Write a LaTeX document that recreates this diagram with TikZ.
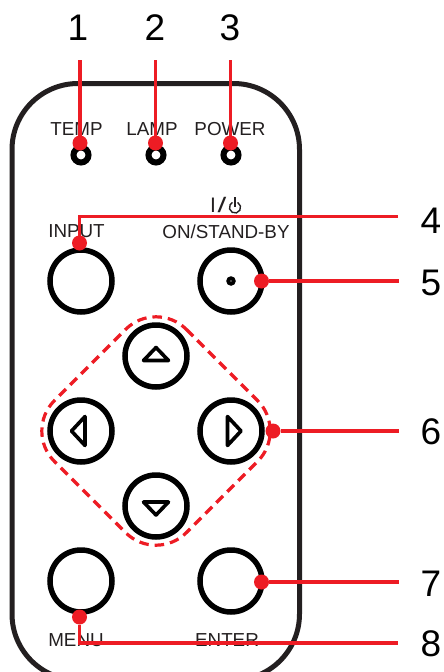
\documentclass[tikz,border=0pt]{standalone}
\usepackage{fontspec}
\setmainfont{Liberation Sans}
\definecolor{ink}{HTML}{231F20}
\definecolor{callout}{HTML}{ED1C24}
\tikzset{
  x=1pt,y=-1pt,
  body/.style={draw=ink,line width=5pt},
  led/.style={circle,draw=black,line width=6pt,minimum size=15pt,inner sep=0pt,outer sep=0pt},
  btn/.style={circle,draw=black,line width=5.5pt,minimum size=62pt,inner sep=0pt,outer sep=0pt},
  tri/.style={draw=black,line width=3.6pt,line join=round},
  lab/.style={text=ink,font=\fontsize{18.8}{19}\selectfont,inner sep=0pt,anchor=center},
  num/.style={text=black,font=\fontsize{37}{38}\selectfont,inner sep=0pt,anchor=center},
  dot/.style={circle,fill=callout,minimum size=15pt,inner sep=0pt,outer sep=0pt},
  lead/.style={draw=callout,line width=3.4pt},
  region/.style={draw=callout,line width=3.2pt,dash pattern=on 9.5pt off 6pt,rounded corners=43pt},
}
\begin{document}
\begin{tikzpicture}
\useasboundingbox (0,0) rectangle (444,672);
\begin{scope}
\clip (0,0) rectangle (444,672);
\draw[body,rounded corners=66pt] (12,83.5) rectangle (299.5,680);
\end{scope}
% texts
\node[lab] (ttemp) at (76.5,129) {TEMP};
\node[lab] (tlamp) at (152,129) {LAMP};
\node[lab] (tpower) at (230,129) {POWER};
\node[lab] (tinput) at (76.5,231.5) {INPUT};
\node[lab] (ton) at (226,231.5) {ON/STAND-BY};
\node[lab,anchor=west,font=\fontsize{21}{22}\selectfont] (tsym) at (210,205) {I\kern1.5pt\scalebox{1.5}[1]{/}};
\node[lab] (tmenu) at (76,640) {MENU};
\node[lab] (tenter) at (227,640) {ENTER};
\draw[ink,line width=1.4pt,line cap=round] (237.8,202.6) arc[start angle=-60,end angle=240,radius=5.6];
\draw[ink,line width=1.4pt] (235,197) -- (235,206.5);
% LEDs
\node[led] (l1) at (81,155) {};
\node[led] (l2) at (156,155) {};
\node[led] (l3) at (231,155) {};
% buttons
\node[btn] (input) at (81,281) {};
\node[btn] (on) at (231,281) {};
\node[btn] (up) at (156,356) {};
\node[btn] (left) at (81,431) {};
\node[btn] (right) at (231,431) {};
\node[btn] (down) at (156,506) {};
\node[btn] (menu) at (81,581) {};
\node[btn] (enter) at (231,581) {};
\node[circle,draw=black,line width=3.8pt,minimum size=5.5pt,inner sep=0pt] (ondot) at (231,281) {};
\draw[tri] (156,347.5) -- (143.5,360.5) -- (168.5,360.5) -- cycle;
\draw[tri] (156,515) -- (143.5,502) -- (168.5,502) -- cycle;
\draw[tri] (71.5,431) -- (85,416.5) -- (85,445.5) -- cycle;
\draw[tri] (241,431) -- (227.5,416.5) -- (227.5,445.5) -- cycle;
% dashed region
\draw[region] (156,299) -- (288,431) -- (156,563) -- (24,431) -- cycle;
% numbers
\node[num] (n1) at (78,28) {1};
\node[num] (n2) at (155,28) {2};
\node[num] (n3) at (230,28) {3};
\node[num] (n4) at (431,221) {4};
\node[num] (n5) at (431,283) {5};
\node[num] (n6) at (431,432) {6};
\node[num] (n7) at (431,584) {7};
\node[num] (n8) at (431,644) {8};
% callouts
\node[dot] (d1) at (80,143) {};
\node[dot] (d2) at (155.5,143) {};
\node[dot] (d3) at (230.5,143) {};
\node[dot] (d4) at (79.5,243) {};
\node[dot] (d5) at (261.5,281) {};
\node[dot] (d6) at (273,431) {};
\node[dot] (d7) at (261.5,582) {};
\node[dot] (d8) at (79.5,617) {};
\coordinate (e1) at (80,60);
\coordinate (e2) at (155.5,60);
\coordinate (e3) at (230.5,60);
\coordinate (e4) at (398,216.5);
\coordinate (e5) at (398.5,281);
\coordinate (e6) at (399,431);
\coordinate (e7) at (399,582);
\coordinate (e8) at (398,643);
\draw[lead] (e1) -- (d1);
\draw[lead] (e2) -- (d2);
\draw[lead] (e3) -- (d3);
\draw[lead] (e4) -| (d4);
\draw[lead] (d5) -- (e5);
\draw[lead] (d6) -- (e6);
\draw[lead] (d7) -- (e7);
\draw[lead] (d8) |- (e8);
\end{tikzpicture}
\end{document}
